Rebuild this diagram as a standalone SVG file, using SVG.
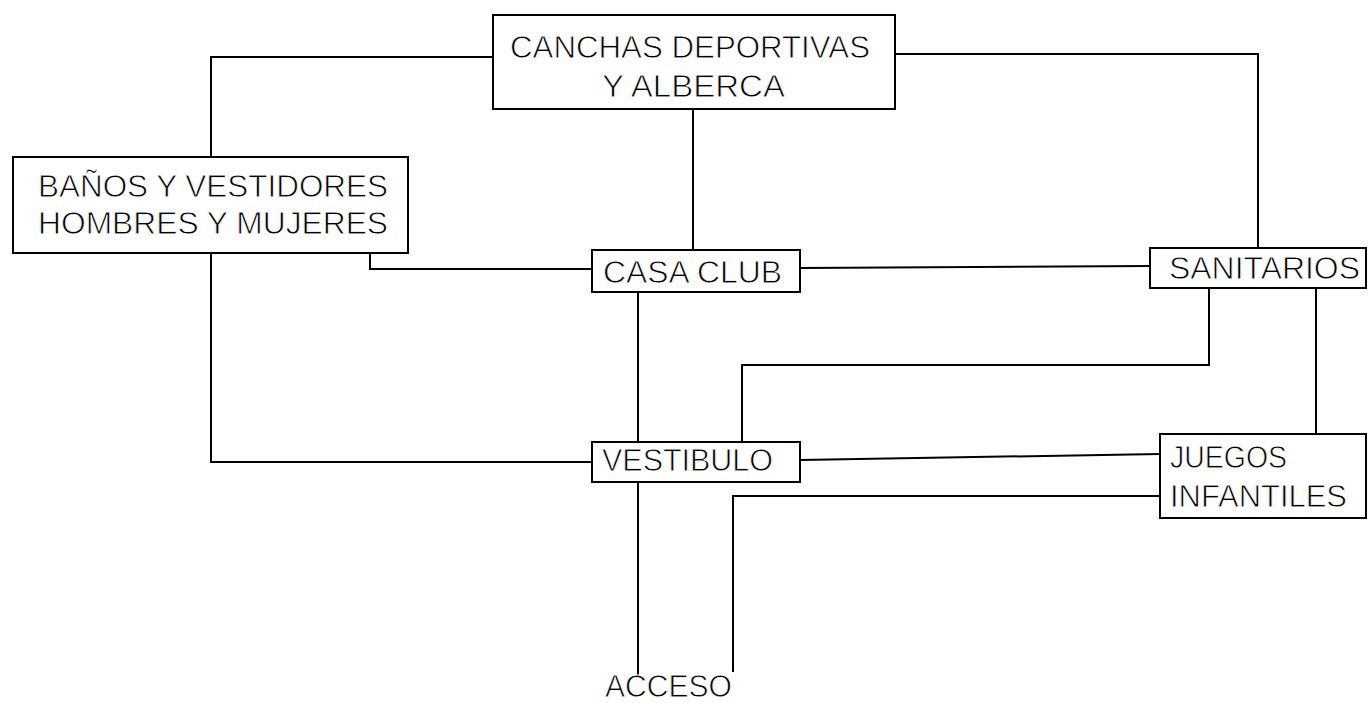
<svg xmlns="http://www.w3.org/2000/svg" width="1368" height="703" viewBox="0 0 1368 703">
<style>
.box{fill:#fff;stroke:#000;stroke-width:2}
.ln{fill:none;stroke:#000;stroke-width:2}
text{font-family:"Liberation Sans",Arial,sans-serif;font-size:32px;fill:#000;stroke:#fff;stroke-width:0.8px}
</style>
<rect width="1368" height="703" fill="#fff"/>
<g id="connectors">
<polyline class="ln" points="493,57 211,57 211,157"/>
<line class="ln" x1="693" y1="110" x2="693" y2="250"/>
<polyline class="ln" points="895,54 1258,54 1258,248"/>
<polyline class="ln" points="211,253 211,462 592,462"/>
<polyline class="ln" points="370,253 370,269 592,269"/>
<line class="ln" x1="800" y1="268" x2="1150" y2="266"/>
<line class="ln" x1="638" y1="292" x2="638" y2="442"/>
<polyline class="ln" points="1209,288 1209,365 742,365 742,442"/>
<line class="ln" x1="1316" y1="288" x2="1316" y2="434"/>
<line class="ln" x1="800" y1="460" x2="1160" y2="454"/>
<line class="ln" x1="638" y1="482" x2="638" y2="677"/>
<polyline class="ln" points="1160,496 733,496 733,672"/>
</g>
<g id="canchas">
<rect class="box" x="493" y="15" width="402" height="94"/>
<text x="510" y="58" textLength="360" lengthAdjust="spacingAndGlyphs" font-size="40">CANCHAS DEPORTIVAS</text>
<text x="602" y="97" textLength="183" lengthAdjust="spacingAndGlyphs" font-size="38">Y ALBERCA</text>
</g>
<g id="banos">
<rect class="box" x="13" y="157" width="395" height="96"/>
<text x="38" y="197" textLength="350" lengthAdjust="spacingAndGlyphs" font-size="40">BAÑOS Y VESTIDORES</text>
<text x="38" y="234" textLength="350" lengthAdjust="spacingAndGlyphs" font-size="40">HOMBRES Y MUJERES</text>
</g>
<g id="casaclub">
<rect class="box" x="592" y="250" width="208" height="42"/>
<text x="603" y="283" textLength="179" lengthAdjust="spacingAndGlyphs" font-size="36">CASA CLUB</text>
</g>
<g id="sanitarios">
<rect class="box" x="1150" y="248" width="216" height="40"/>
<text x="1169" y="279" textLength="191" lengthAdjust="spacingAndGlyphs" font-size="34">SANITARIOS</text>
</g>
<g id="vestibulo">
<rect class="box" x="592" y="442" width="208" height="40"/>
<text x="602" y="471" textLength="171" lengthAdjust="spacingAndGlyphs" font-size="34">VESTIBULO</text>
</g>
<g id="juegos">
<rect class="box" x="1160" y="434" width="206" height="84"/>
<text x="1170" y="468" textLength="117" lengthAdjust="spacingAndGlyphs" font-size="33">JUEGOS</text>
<text x="1170" y="507" textLength="177" lengthAdjust="spacingAndGlyphs" font-size="34">INFANTILES</text>
</g>
<g id="acceso">
<text x="605" y="697" textLength="127" lengthAdjust="spacingAndGlyphs" font-size="30">ACCESO</text>
</g>
</svg>
